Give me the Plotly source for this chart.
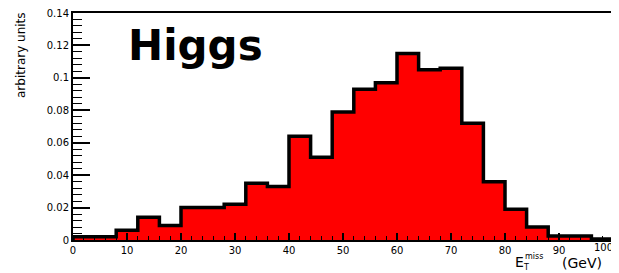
import plotly.graph_objects as go

# Histogram of missing transverse energy (bin edges in GeV, 4 GeV bins)
bin_edges = [0, 4, 8, 12, 16, 20, 24, 28, 32, 36, 40, 44, 48, 52, 56, 60,
             64, 68, 72, 76, 80, 84, 88, 92, 96, 100]
bin_values = [0.002, 0.002, 0.006, 0.014, 0.009, 0.020, 0.020, 0.022, 0.035,
              0.033, 0.064, 0.051, 0.079, 0.093, 0.097, 0.115, 0.105, 0.106,
              0.072, 0.036, 0.019, 0.008, 0.0025, 0.0025, 0.0006]
x_tick_vals = [0, 10, 20, 30, 40, 50, 60, 70, 80, 90, 100]
x_tick_text = ["0", "10", "20", "30", "40", "50", "60", "70", "80", "90", "100"]
y_tick_vals = [0, 0.02, 0.04, 0.06, 0.08, 0.1, 0.12, 0.14]
y_tick_text = ["0", "0.02", "0.04", "0.06", "0.08", "0.1", "0.12", "0.14"]

centers = [(a + b) / 2 for a, b in zip(bin_edges[:-1], bin_edges[1:])]
widths = [b - a for a, b in zip(bin_edges[:-1], bin_edges[1:])]

# step outline
step_x = [bin_edges[0]] + bin_edges[:-1] + [bin_edges[-1]]
step_y = [0] + bin_values + [0]

fig = go.Figure()
fig.add_trace(go.Bar(x=centers, y=bin_values, width=widths,
                     marker=dict(color="#ff0000", line=dict(width=0)),
                     hoverinfo="skip"))
fig.add_trace(go.Scatter(x=step_x, y=step_y, mode="lines",
                         line=dict(color="black", width=3.5, shape="hv"),
                         hoverinfo="skip"))

tick_font = dict(family="DejaVu Sans", size=10, color="black")

# last x tick label is drawn separately (shifted left to stay inside the window)
shown_x_text = x_tick_text[:-1] + [""]

# The page body has an 8px margin, so the figure is sized to fit the window
fig.update_layout(
    width=611, height=265,
    margin=dict(l=65, r=6, t=5, b=33),
    paper_bgcolor="white", plot_bgcolor="white",
    showlegend=False, bargap=0,
    xaxis=dict(range=[0, 100], tickmode="array", tickvals=x_tick_vals,
               ticktext=shown_x_text, ticks="inside", ticklen=7, tickwidth=1.5,
               tickcolor="black", showgrid=False, zeroline=False,
               showline=True, linecolor="black", linewidth=2, mirror=True,
               tickfont=tick_font, automargin=False, ticklabeloverflow="allow",
               minor=dict(dtick=2, ticks="inside", ticklen=4, tickwidth=1.2,
                          tickcolor="black", showgrid=False)),
    yaxis=dict(range=[0, 0.14], tickmode="array", tickvals=y_tick_vals,
               ticktext=y_tick_text, ticks="inside", ticklen=17, tickwidth=1.5,
               tickcolor="black", showgrid=False, zeroline=False,
               showline=True, linecolor="black", linewidth=2, mirror=True,
               tickfont=tick_font, automargin=False, ticklabeloverflow="allow",
               minor=dict(dtick=0.004, ticks="inside", ticklen=9, tickwidth=1.2,
                          tickcolor="black", showgrid=False)),
)

fig.add_annotation(text=x_tick_text[-1], xref="paper", yref="paper",
                   x=1, xshift=-10, y=0, yshift=-7,
                   xanchor="center", yanchor="middle", showarrow=False,
                   font=tick_font)

# "Higgs" label
fig.add_annotation(text="<b>Higgs</b>", xref="paper", yref="paper",
                   x=(126 - 73) / 540, y=(240 - 45) / 227,
                   xanchor="left", yanchor="middle", showarrow=False,
                   font=dict(family="DejaVu Sans", size=42, color="black"))

# y-axis title
fig.add_annotation(text="arbitrary units", xref="paper", yref="paper",
                   x=0, xshift=-52, y=(240 - 55) / 227,
                   xanchor="center", yanchor="middle", textangle=-90,
                   showarrow=False,
                   font=dict(family="DejaVu Sans", size=12, color="black"))

# x-axis title: E_T^miss (GeV)
xt_font = dict(family="DejaVu Sans", size=14, color="black")
small_font = dict(family="DejaVu Sans", size=8, color="black")
fig.add_annotation(text="E", xref="paper", yref="paper",
                   x=(519 - 73) / 540, y=(240 - 262) / 227,
                   xanchor="center", yanchor="middle", showarrow=False,
                   font=xt_font)
fig.add_annotation(text="miss", xref="paper", yref="paper",
                   x=(523 - 73) / 540, y=(240 - 256) / 227,
                   xanchor="left", yanchor="middle", showarrow=False,
                   font=small_font)
fig.add_annotation(text="T", xref="paper", yref="paper",
                   x=(521 - 73) / 540, y=(240 - 267) / 227,
                   xanchor="left", yanchor="middle", showarrow=False,
                   font=small_font)
fig.add_annotation(text="(GeV)", xref="paper", yref="paper",
                   x=(582 - 73) / 540, y=(240 - 263) / 227,
                   xanchor="center", yanchor="middle", showarrow=False,
                   font=dict(family="DejaVu Sans", size=14, color="black"))

fig.write_html("out.html")
